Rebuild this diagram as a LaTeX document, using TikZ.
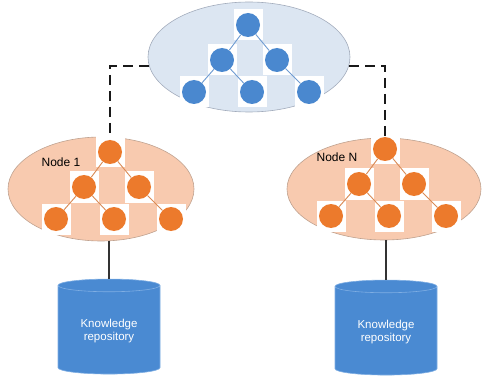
\documentclass[tikz,border=0pt]{standalone}
\usepackage{fontspec}
\setmainfont{Liberation Sans}
\usetikzlibrary{shapes,positioning}
\definecolor{hubfill}{HTML}{DCE6F2}
\definecolor{hubedge}{HTML}{A3ACBC}
\definecolor{peach}{HTML}{F8CAAF}
\definecolor{peachedge}{HTML}{BFA290}
\definecolor{bluedot}{HTML}{4A88CF}
\definecolor{blueline}{HTML}{6E9BD1}
\definecolor{orangedot}{HTML}{EC7A2C}
\definecolor{orangeline}{HTML}{D98A55}
\definecolor{repo}{HTML}{4A8AD2}
\definecolor{repoedge}{HTML}{7FAEE3}
\tikzset{
  sqbox/.style={fill=white,minimum width=29pt,minimum height=31pt,inner sep=0pt},
  bdot/.style={circle,fill=bluedot,minimum size=24pt,inner sep=0pt},
  odot/.style={circle,fill=orangedot,minimum size=24pt,inner sep=0pt},
  bdotline/.style={blueline,line width=0.9pt},
  odotline/.style={orangeline,line width=0.9pt},
  cloud/.style={ellipse,inner sep=0pt,line width=0.6pt},
  dashline/.style={black!90,line width=2pt,dash pattern=on 10pt off 6pt},
  lbl/.style={font=\fontsize{12}{14}\selectfont},
  repobox/.style={cylinder,shape border rotate=90,aspect=0.2,draw=repoedge,fill=repo,line width=0.6pt,
    minimum width=102pt,minimum height=95pt,text=white,align=center,font=\fontsize{11.5}{13}\selectfont}
}
\newcommand\drawtree[4]{%
\foreach \n/\dx/\dy in {0/0/0,1/-26/35,2/29/35,3/-54/67,4/4/67,5/61/67}{\node[sqbox] (#1sq\n) at ({#2+\dx},{#3+\dy}) {}; \node[#4] (#1\n) at ({#2+\dx},{#3+\dy}) {};}
\draw[#4line] (#10)--(#11) (#10)--(#12) (#11)--(#13) (#11)--(#14) (#12)--(#15);}

\begin{document}
\begin{tikzpicture}[x=1pt,y=-1pt]
\useasboundingbox (0,0) rectangle (482,377);
\node[cloud,draw=hubedge,fill=hubfill,minimum width=202pt,minimum height=110pt] (hub) at (249,57) {};
\node[cloud,draw=peachedge,fill=peach,minimum width=186pt,minimum height=104pt] (node1) at (101,189) {};
\node[cloud,draw=peachedge,fill=peach,minimum width=194pt,minimum height=102pt] (nodeN) at (384,189) {};
\drawtree{g}{248}{25}{bdot}
\drawtree{a}{110}{152}{odot}
\drawtree{b}{385}{149}{odot}
\draw[dashline] (hub.185) -| (a0 |- node1.north);
\draw[dashline] (hub.-5) -| (b0 |- nodeN.north);
\node[lbl] (lab1) at (61,162) {Node 1};
\node[lbl] (labN) at (337,157) {Node N};
\node[repobox] (repo1) at (109,331) {Knowledge\\repository};
\node[repobox] (repoN) at (386,332) {Knowledge\\repository};
\draw[line width=1.2pt,black!80] (repo1.north) -- (repo1.north |- node1.south);
\draw[line width=1.2pt,black!80] (repoN.north) -- (repoN.north |- nodeN.south);
\end{tikzpicture}
\end{document}
